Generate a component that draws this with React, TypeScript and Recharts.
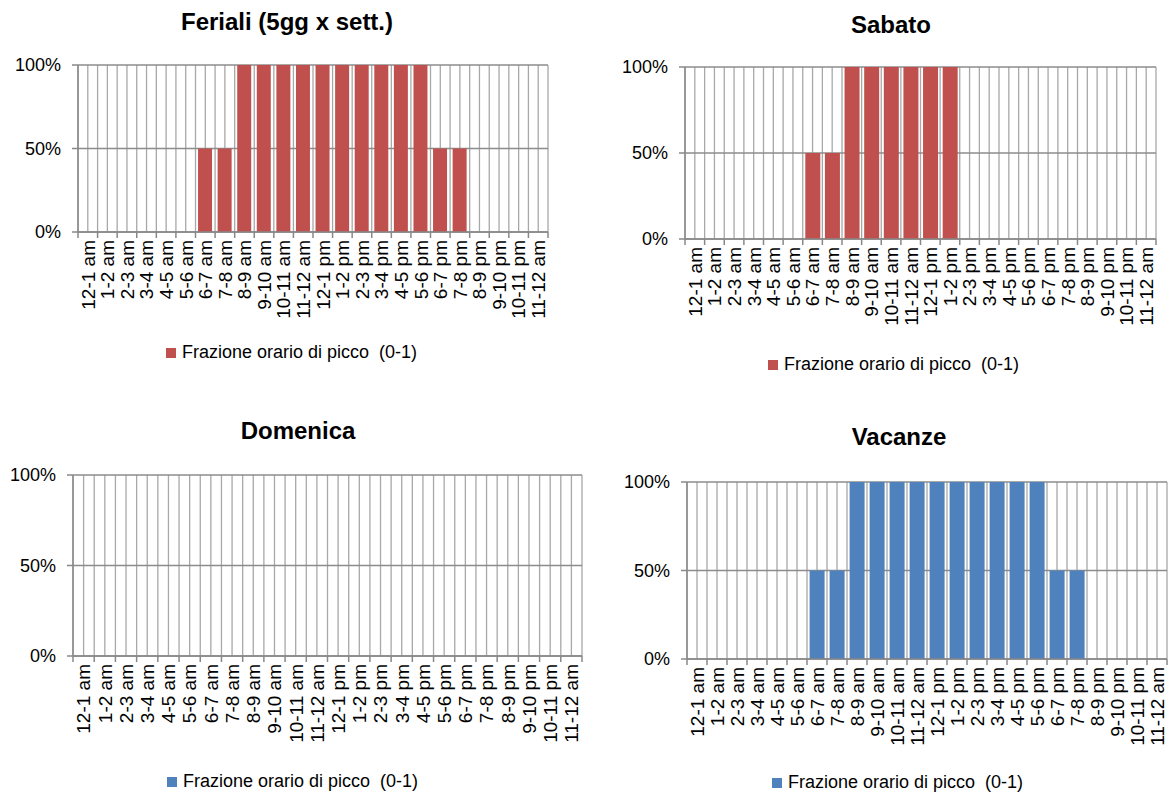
import React from 'react'
import { BarChart, Bar, XAxis, YAxis, CartesianGrid, Legend } from 'recharts'

// Hourly slots shared by all four day types
const HOURS = [
  '12-1 am', '1-2 am', '2-3 am', '3-4 am', '4-5 am', '5-6 am',
  '6-7 am', '7-8 am', '8-9 am', '9-10 am', '10-11 am', '11-12 am',
  '12-1 pm', '1-2 pm', '2-3 pm', '3-4 pm', '4-5 pm', '5-6 pm',
  '6-7 pm', '7-8 pm', '8-9 pm', '9-10 pm', '10-11 pm', '11-12 am',
]

// Fraction of peak hour (0-1) per slot
const FERIALI = [0, 0, 0, 0, 0, 0, 0.5, 0.5, 1, 1, 1, 1, 1, 1, 1, 1, 1, 1, 0.5, 0.5, 0, 0, 0, 0]
const SABATO = [0, 0, 0, 0, 0, 0, 0.5, 0.5, 1, 1, 1, 1, 1, 1, 0, 0, 0, 0, 0, 0, 0, 0, 0, 0]
const DOMENICA = [0, 0, 0, 0, 0, 0, 0, 0, 0, 0, 0, 0, 0, 0, 0, 0, 0, 0, 0, 0, 0, 0, 0, 0]
const VACANZE = [0, 0, 0, 0, 0, 0, 0.5, 0.5, 1, 1, 1, 1, 1, 1, 1, 1, 1, 1, 0.5, 0.5, 0, 0, 0, 0]

const Y_TICKS = [0, 0.5, 1]
const SERIES_NAME = 'Frazione orario di picco  (0-1)'

const RED = '#C0504D'
const BLUE = '#4F81BD'
const FONT = '"Liberation Sans", Arial, sans-serif'
const Y_AXIS_W = 60
const X_AXIS_H = 100

interface Panel {
  title: string
  values: number[]
  color: string
  box: { x: number; y: number; w: number; h: number }
  plot: { l: number; r: number; t: number; b: number }
  titleCx: number
  titleCy: number
  legendX: number
  legendCy: number
}

const PANELS: Panel[] = [
  {
    title: 'Feriali (5gg x sett.)',
    values: FERIALI,
    color: RED,
    box: { x: 0, y: 0, w: 585, h: 400 },
    plot: { l: 78, r: 548, t: 65, b: 232 },
    titleCx: 287,
    titleCy: 22,
    legendX: 166,
    legendCy: 353,
  },
  {
    title: 'Sabato',
    values: SABATO,
    color: RED,
    box: { x: 585, y: 0, w: 584, h: 400 },
    plot: { l: 685, r: 1156, t: 67, b: 239 },
    titleCx: 891,
    titleCy: 25,
    legendX: 768,
    legendCy: 365,
  },
  {
    title: 'Domenica',
    values: DOMENICA,
    color: BLUE,
    box: { x: 0, y: 400, w: 585, h: 396 },
    plot: { l: 73, r: 582, t: 475, b: 656 },
    titleCx: 298,
    titleCy: 431,
    legendX: 167,
    legendCy: 782,
  },
  {
    title: 'Vacanze',
    values: VACANZE,
    color: BLUE,
    box: { x: 585, y: 400, w: 584, h: 396 },
    plot: { l: 687, r: 1167, t: 482, b: 659 },
    titleCx: 899,
    titleCy: 437,
    legendX: 772,
    legendCy: 783,
  },
]

// Rotated hour label, with the tick mark on the slot boundary (Excel style)
function HourTick(props: any) {
  const { x, y, payload, index, band } = props
  const left = x - band / 2
  return (
    <g>
      <line x1={left} y1={y} x2={left} y2={y + 6} stroke="#888" strokeWidth={1.5} />
      {index === HOURS.length - 1 && (
        <line x1={x + band / 2} y1={y} x2={x + band / 2} y2={y + 6} stroke="#888" strokeWidth={1.5} />
      )}
      <text
        x={x}
        y={y + 8}
        dy="0.36em"
        transform={`rotate(-90, ${x}, ${y + 8})`}
        textAnchor="end"
        fontSize={19}
        fontFamily={FONT}
        fill="#000"
      >
        {payload.value}
      </text>
    </g>
  )
}

function SeriesKey({ payload }: any) {
  const item = payload && payload[0]
  if (!item) return null
  return (
    <div style={{ display: 'flex', alignItems: 'center', fontFamily: FONT, fontSize: 18, color: '#000', whiteSpace: 'pre' }}>
      <span style={{ display: 'inline-block', width: 10, height: 10, background: item.color, marginRight: 6 }} />
      {item.value}
    </div>
  )
}

function DayChart({ p }: { p: Panel }) {
  const data = HOURS.map((hour, i) => ({ hour, v: p.values[i] }))
  const margin = {
    top: p.plot.t - p.box.y,
    left: p.plot.l - p.box.x - Y_AXIS_W,
    right: p.box.x + p.box.w - p.plot.r,
    bottom: p.box.y + p.box.h - p.plot.b - X_AXIS_H,
  }
  const band = (p.plot.r - p.plot.l) / HOURS.length

  return (
    <div style={{ position: 'absolute', left: p.box.x, top: p.box.y, width: p.box.w, height: p.box.h }}>
      <div
        style={{
          position: 'absolute',
          left: p.titleCx - p.box.x - 200,
          top: p.titleCy - p.box.y - 15,
          width: 400,
          lineHeight: '30px',
          textAlign: 'center',
          fontFamily: FONT,
          fontWeight: 'bold',
          fontSize: 24,
          color: '#000',
        }}
      >
        {p.title}
      </div>
      <BarChart width={p.box.w} height={p.box.h} data={data} margin={margin} barCategoryGap="13%">
        {/* gridlines on slot boundaries and slot centres */}
        <CartesianGrid
          horizontal={false}
          stroke="#a8a8a8"
          strokeWidth={1.3}
          verticalCoordinatesGenerator={({ offset }: any) =>
            Array.from({ length: HOURS.length * 2 + 1 }, (_, i) => offset.left + (i * offset.width) / (HOURS.length * 2))
          }
        />
        <CartesianGrid vertical={false} stroke="#8c8c8c" strokeWidth={1.5} />
        <XAxis
          dataKey="hour"
          interval={0}
          height={X_AXIS_H}
          tickSize={0}
          tickMargin={0}
          tickLine={false}
          axisLine={{ stroke: '#888', strokeWidth: 1.5 }}
          tick={(tp: any) => <HourTick {...tp} band={band} />}
        />
        <YAxis
          width={Y_AXIS_W}
          domain={[0, 1]}
          ticks={Y_TICKS}
          interval={0}
          tickFormatter={(v: number) => `${Math.round(v * 100)}%`}
          tickSize={6}
          tickMargin={11}
          tickLine={{ stroke: '#888', strokeWidth: 1.5 }}
          axisLine={{ stroke: '#888', strokeWidth: 1.5 }}
          tick={{ fontSize: 18, fontFamily: FONT, fill: '#000' }}
        />
        <Bar dataKey="v" name={SERIES_NAME} fill={p.color} isAnimationActive={false} />
        <Legend
          verticalAlign="middle"
          align="center"
          layout="horizontal"
          content={<SeriesKey />}
          wrapperStyle={{ left: p.legendX - p.box.x, top: p.legendCy - p.box.y - 11, width: 'auto', height: 22 }}
        />
      </BarChart>
    </div>
  )
}

export default function App() {
  return (
    <div style={{ position: 'absolute', left: 0, top: 0, width: 1169, height: 796, background: '#fff', overflow: 'hidden' }}>
      {PANELS.map((p) => (
        <DayChart key={p.title} p={p} />
      ))}
    </div>
  )
}
